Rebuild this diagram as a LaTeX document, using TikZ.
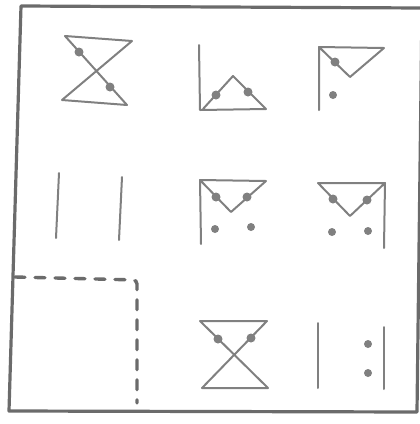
\documentclass[tikz,border=0pt]{standalone}
\usepackage{tikz}
\tikzset{
  fig/.style={draw=black!50, line width=2pt, line join=round, line cap=round},
  spot/.style={fill=black!50}
}
\begin{document}
\begin{tikzpicture}[x=1pt,y=-1pt]
\useasboundingbox (0,0) rectangle (420,424);
% Outer frame
\draw[line width=3.2pt, draw=black!58, line join=round] (21,6) -- (422,8) -- (417,412) -- (9,411) -- cycle;

% Row 1: hourglass with two dots
\draw[fig] (65,36) -- (132,41) -- (62,100) -- (127,105) -- cycle;
\fill[spot] (79,52) circle (4.5);
\fill[spot] (110,87) circle (4.5);

% Row 1: corner with triangle
\draw[fig] (199,45) -- (200,110) -- (266,109) -- (233,76) -- (203,109);
\fill[spot] (216,95) circle (4.5);
\fill[spot] (248,92) circle (4.5);

% Row 1: corner with V
\draw[fig] (319,110) -- (319,47) -- (384,48) -- (350,77) -- (319,47);
\fill[spot] (335,62) circle (4.5);
\fill[spot] (333,95) circle (4);

% Row 2: two lines
\draw[fig] (59,173) -- (56,238);
\draw[fig] (122,177) -- (119,240);

% Row 2: left wall with V
\draw[fig] (201,244) -- (200,180) -- (266,181) -- (231,212) -- (200,180);
\fill[spot] (216,197) circle (4.5);
\fill[spot] (247,197) circle (4.5);
\fill[spot] (215,229) circle (4);
\fill[spot] (251,227) circle (4);

% Row 2: right wall with V
\draw[fig] (384,248) -- (385,183) -- (318,183) -- (350,216) -- (385,183);
\fill[spot] (333,199) circle (4.5);
\fill[spot] (367,200) circle (4.5);
\fill[spot] (332,232) circle (4);
\fill[spot] (368,231) circle (4);

% Row 3: missing cell
\draw[draw=black!58, line width=3.4pt, dash pattern=on 10pt off 10pt, rounded corners=4pt, line cap=round] (15,277) -- (137,280) -- (137,403);

% Row 3: hourglass with dots on top
\draw[fig] (200,321) -- (267,321) -- (202,388) -- (268,388) -- cycle;
\fill[spot] (218,339) circle (4.5);
\fill[spot] (251,338) circle (4.5);

% Row 3: two lines and two dots
\draw[fig] (318,323) -- (318,388);
\draw[fig] (384,327) -- (384,389);
\fill[spot] (368,344) circle (4);
\fill[spot] (368,373) circle (4);

\end{tikzpicture}
\end{document}
